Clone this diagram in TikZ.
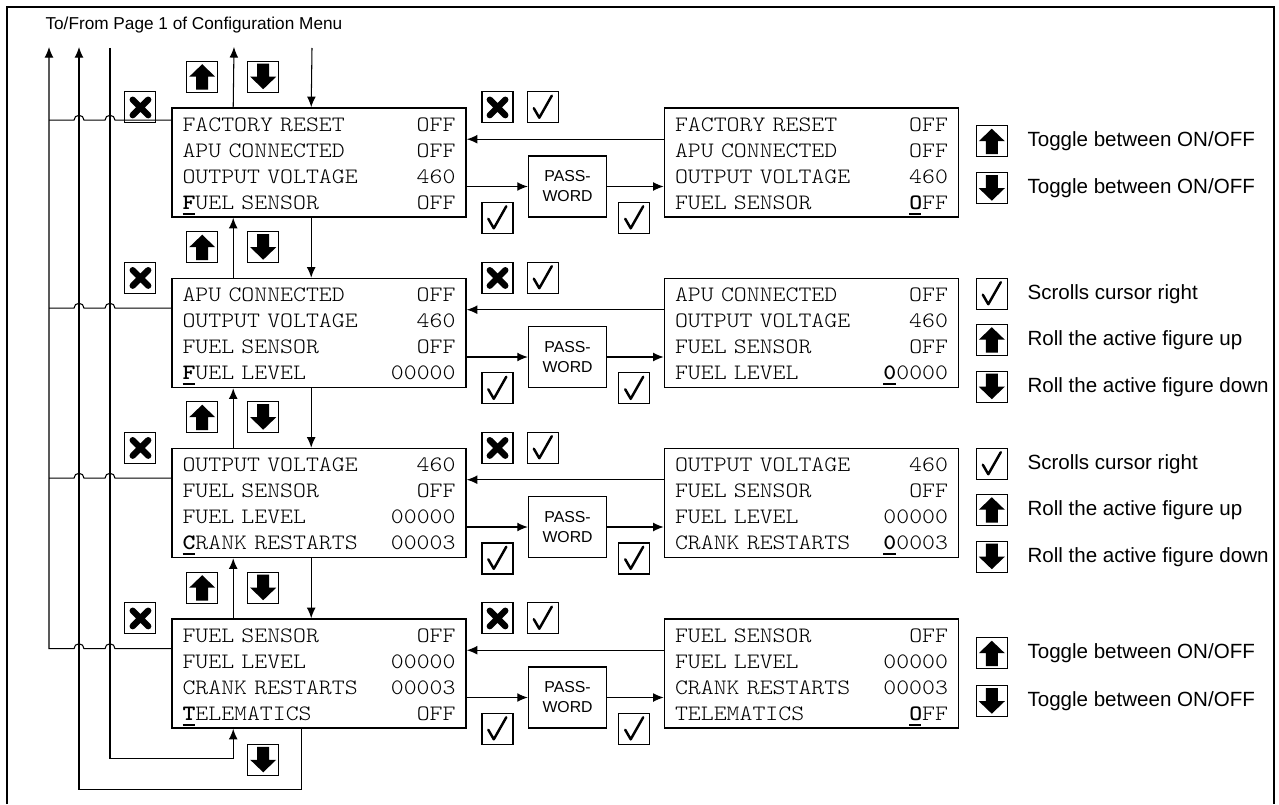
\documentclass[tikz,border=0pt]{standalone}
\usepackage{fontspec}
\setmainfont{Liberation Sans}
\newfontfamily\lcdFont{lmmonolt10-regular.otf}[FakeStretch=1.12, BoldFont=lmmonolt10-bold.otf]
\usepackage{tikz}
\usetikzlibrary{arrows.meta}

\newcommand{\cursorChar}[1]{\makebox[0pt][l]{\rule[-3.2pt]{0.55em}{1.1pt}}\textbf{#1}}

\begin{document}
\begin{tikzpicture}[
    menuBox/.style={draw, line width=0.9pt, text width=5.46cm, inner xsep=0.21cm, inner ysep=0pt,
        minimum height=2.18cm, align=left, font=\lcdFont\fontsize{12.5}{14.8}\selectfont,
        execute at begin node={\rule{0pt}{11.8pt}}},
    passBox/.style={draw, line width=0.9pt, minimum width=1.56cm, minimum height=1.22cm,
        inner sep=0pt, align=center, font=\fontsize{9}{11.4}\selectfont},
    keyBox/.style={draw, line width=0.8pt, minimum size=0.62cm, inner sep=0pt},
    upKey/.style={keyBox, path picture={
        \fill[shift={(path picture bounding box.center)}] (0,0.25) -- (0.26,0) -- (0.12,0) -- (0.12,-0.26) -- (-0.12,-0.26) -- (-0.12,0) -- (-0.26,0) -- cycle;}},
    downKey/.style={keyBox, path picture={
        \fill[shift={(path picture bounding box.center)}] (0,-0.25) -- (0.26,0) -- (0.12,0) -- (0.12,0.26) -- (-0.12,0.26) -- (-0.12,0) -- (-0.26,0) -- cycle;}},
    exitKey/.style={keyBox, path picture={
        \draw[shift={(path picture bounding box.center)}, line width=3.6pt, line cap=round] (-0.15,-0.16) -- (0.16,0.15) (-0.15,0.15) -- (0.16,-0.16);}},
    okKey/.style={keyBox, path picture={
        \draw[shift={(path picture bounding box.center)}, line width=1.4pt, line cap=round, line join=round] (-0.18,-0.02) -- (-0.07,-0.21) -- (0.18,0.23);}},
    legendText/.style={anchor=west, inner sep=0pt, font=\fontsize{11.7}{14}\selectfont},
    >={Latex[length=6pt, width=5pt]},
    every path/.style={line width=0.6pt}
    ]
    \useasboundingbox (0,0) rectangle (25.58,-16.08);
    \draw[line width=1.1pt] (0.14,-16.08) -- (0.14,-0.14) -- (25.48,-0.14) -- (25.48,-16.08);

    \node[anchor=west, inner sep=0pt, font=\fontsize{9.8}{12}\selectfont] (title) at (0.9,-0.5) {To/From Page 1 of Configuration Menu};

    \coordinate (exitTop) at (0.98,-0.94);
    \coordinate (wrapTop) at (1.58,-0.94);
    \coordinate (entryTop) at (2.2,-0.96);
    \coordinate (toPage) at (4.68,-0.94);
    \coordinate (fromPage) at (6.24,-0.96);

    % menu pages
    \node[menuBox] (menuA) at (6.38,-3.25) {FACTORY RESET\hfill OFF\\APU CONNECTED\hfill OFF\\OUTPUT VOLTAGE\hfill 460\\\cursorChar{F}UEL SENSOR\hfill OFF};
    \node[menuBox] (menuB) at (6.38,-6.66) {APU CONNECTED\hfill OFF\\OUTPUT VOLTAGE\hfill 460\\FUEL SENSOR\hfill OFF\\\cursorChar{F}UEL LEVEL\hfill 00000};
    \node[menuBox] (menuC) at (6.38,-10.06) {OUTPUT VOLTAGE\hfill 460\\FUEL SENSOR\hfill OFF\\FUEL LEVEL\hfill 00000\\\cursorChar{C}RANK RESTARTS\hfill 00003};
    \node[menuBox] (menuD) at (6.38,-13.47) {FUEL SENSOR\hfill OFF\\FUEL LEVEL\hfill 00000\\CRANK RESTARTS\hfill 00003\\\cursorChar{T}ELEMATICS\hfill OFF};

    % edit pages
    \node[menuBox] (editA) at (16.23,-3.25) {FACTORY RESET\hfill OFF\\APU CONNECTED\hfill OFF\\OUTPUT VOLTAGE\hfill 460\\FUEL SENSOR\hfill \cursorChar{O}FF};
    \node[menuBox] (editB) at (16.23,-6.66) {APU CONNECTED\hfill OFF\\OUTPUT VOLTAGE\hfill 460\\FUEL SENSOR\hfill OFF\\FUEL LEVEL\hfill \cursorChar{0}0000};
    \node[menuBox] (editC) at (16.23,-10.06) {OUTPUT VOLTAGE\hfill 460\\FUEL SENSOR\hfill OFF\\FUEL LEVEL\hfill 00000\\CRANK RESTARTS\hfill \cursorChar{0}0003};
    \node[menuBox] (editD) at (16.23,-13.47) {FUEL SENSOR\hfill OFF\\FUEL LEVEL\hfill 00000\\CRANK RESTARTS\hfill 00003\\TELEMATICS\hfill \cursorChar{O}FF};

    % password boxes
    \node[passBox, anchor=south west, xshift=1.22cm] (passA) at (menuA.south east) {PASS-\\WORD};
    \node[passBox, anchor=south west, xshift=1.22cm] (passB) at (menuB.south east) {PASS-\\WORD};
    \node[passBox, anchor=south west, xshift=1.22cm] (passC) at (menuC.south east) {PASS-\\WORD};
    \node[passBox, anchor=south west, xshift=1.22cm] (passD) at (menuD.south east) {PASS-\\WORD};

    % keys on the left
    \node[exitKey, xshift=-0.62cm] (quitA) at (menuA.north west) {};
    \node[exitKey, xshift=-0.62cm] (quitB) at (menuB.north west) {};
    \node[exitKey, xshift=-0.62cm] (quitC) at (menuC.north west) {};
    \node[exitKey, xshift=-0.62cm] (quitD) at (menuD.north west) {};

    \node[upKey, xshift=0.62cm, yshift=0.61cm] (upA) at (menuA.north west) {};
    \node[downKey, xshift=1.84cm, yshift=0.61cm] (downA) at (menuA.north west) {};
    \node[upKey, xshift=0.62cm, yshift=0.61cm] (upB) at (menuB.north west) {};
    \node[downKey, xshift=1.84cm, yshift=0.61cm] (downB) at (menuB.north west) {};
    \node[upKey, xshift=0.62cm, yshift=0.61cm] (upC) at (menuC.north west) {};
    \node[downKey, xshift=1.84cm, yshift=0.61cm] (downC) at (menuC.north west) {};
    \node[upKey, xshift=0.62cm, yshift=0.61cm] (upD) at (menuD.north west) {};
    \node[downKey, xshift=1.84cm, yshift=0.61cm] (downD) at (menuD.north west) {};
    \node[downKey, xshift=1.84cm, yshift=-0.62cm] (downE) at (menuD.south west) {};

    % keys in the middle
    \node[exitKey, xshift=0.61cm] (cancelA) at (menuA.north east) {};
    \node[okKey, xshift=1.52cm] (okA) at (menuA.north east) {};
    \node[okKey, xshift=0.61cm] (enterA) at (menuA.south east) {};
    \node[okKey, xshift=-0.59cm] (confirmA) at (editA.south west) {};
    \node[exitKey, xshift=0.61cm] (cancelB) at (menuB.north east) {};
    \node[okKey, xshift=1.52cm] (okB) at (menuB.north east) {};
    \node[okKey, xshift=0.61cm] (enterB) at (menuB.south east) {};
    \node[okKey, xshift=-0.59cm] (confirmB) at (editB.south west) {};
    \node[exitKey, xshift=0.61cm] (cancelC) at (menuC.north east) {};
    \node[okKey, xshift=1.52cm] (okC) at (menuC.north east) {};
    \node[okKey, xshift=0.61cm] (enterC) at (menuC.south east) {};
    \node[okKey, xshift=-0.59cm] (confirmC) at (editC.south west) {};
    \node[exitKey, xshift=0.61cm] (cancelD) at (menuD.north east) {};
    \node[okKey, xshift=1.52cm] (okD) at (menuD.north east) {};
    \node[okKey, xshift=0.61cm] (enterD) at (menuD.south east) {};
    \node[okKey, xshift=-0.59cm] (confirmD) at (editD.south west) {};

    % legend on the right
    \node[upKey, xshift=0.65cm, yshift=-0.68cm] (legUpA) at (editA.north east) {};
    \node[legendText, xshift=0.38cm] (legUpTextA) at (legUpA.east) {Toggle between ON/OFF};
    \node[downKey, xshift=0.65cm, yshift=-1.62cm] (legDownA) at (editA.north east) {};
    \node[legendText, xshift=0.38cm] (legDownTextA) at (legDownA.east) {Toggle between ON/OFF};

    \node[okKey, xshift=0.65cm, yshift=-0.32cm] (legOkB) at (editB.north east) {};
    \node[legendText, xshift=0.38cm] (legOkTextB) at (legOkB.east) {Scrolls cursor right};
    \node[upKey, xshift=0.65cm, yshift=-1.24cm] (legUpB) at (editB.north east) {};
    \node[legendText, xshift=0.38cm] (legUpTextB) at (legUpB.east) {Roll the active figure up};
    \node[downKey, xshift=0.65cm, yshift=-2.18cm] (legDownB) at (editB.north east) {};
    \node[legendText, xshift=0.38cm] (legDownTextB) at (legDownB.east) {Roll the active figure down};

    \node[okKey, xshift=0.65cm, yshift=-0.32cm] (legOkC) at (editC.north east) {};
    \node[legendText, xshift=0.38cm] (legOkTextC) at (legOkC.east) {Scrolls cursor right};
    \node[upKey, xshift=0.65cm, yshift=-1.24cm] (legUpC) at (editC.north east) {};
    \node[legendText, xshift=0.38cm] (legUpTextC) at (legUpC.east) {Roll the active figure up};
    \node[downKey, xshift=0.65cm, yshift=-2.18cm] (legDownC) at (editC.north east) {};
    \node[legendText, xshift=0.38cm] (legDownTextC) at (legDownC.east) {Roll the active figure down};

    \node[upKey, xshift=0.65cm, yshift=-0.7cm] (legUpD) at (editD.north east) {};
    \node[legendText, xshift=0.38cm] (legUpTextD) at (legUpD.east) {Toggle between ON/OFF};
    \node[downKey, xshift=0.65cm, yshift=-1.66cm] (legDownD) at (editD.north east) {};
    \node[legendText, xshift=0.38cm] (legDownTextD) at (legDownD.east) {Toggle between ON/OFF};

    % up and down between pages
    \draw[->] ([xshift=1.24cm]menuA.north west) -- (toPage);
    \draw[->] (fromPage) -- ([xshift=2.8cm]menuA.north west);
    \draw[->] ([xshift=1.24cm]menuB.north west) -- ([xshift=1.24cm]menuA.south west);
    \draw[->] ([xshift=2.8cm]menuA.south west) -- ([xshift=2.8cm]menuB.north west);
    \draw[->] ([xshift=1.24cm]menuC.north west) -- ([xshift=1.24cm]menuB.south west);
    \draw[->] ([xshift=2.8cm]menuB.south west) -- ([xshift=2.8cm]menuC.north west);
    \draw[->] ([xshift=1.24cm]menuD.north west) -- ([xshift=1.24cm]menuC.south west);
    \draw[->] ([xshift=2.8cm]menuC.south west) -- ([xshift=2.8cm]menuD.north west);

    % password and back
    \draw[->] (menuA.east |- passA.west) -- (passA.west);
    \draw[->] (passA.east) -- (editA.west |- passA.east);
    \draw[->] ([yshift=-0.64cm]editA.north west) -- ([yshift=-0.64cm]menuA.north east);
    \draw[->] (menuB.east |- passB.west) -- (passB.west);
    \draw[->] (passB.east) -- (editB.west |- passB.east);
    \draw[->] ([yshift=-0.64cm]editB.north west) -- ([yshift=-0.64cm]menuB.north east);
    \draw[->] (menuC.east |- passC.west) -- (passC.west);
    \draw[->] (passC.east) -- (editC.west |- passC.east);
    \draw[->] ([yshift=-0.64cm]editC.north west) -- ([yshift=-0.64cm]menuC.north east);
    \draw[->] (menuD.east |- passD.west) -- (passD.west);
    \draw[->] (passD.east) -- (editD.west |- passD.east);
    \draw[->] ([yshift=-0.64cm]editD.north west) -- ([yshift=-0.64cm]menuD.north east);

    % back to page 1, with hops
    \coordinate (rowA) at ([yshift=-0.26cm]menuA.north west);
    \coordinate (rowB) at ([yshift=-0.61cm]menuB.north west);
    \coordinate (rowC) at ([yshift=-0.61cm]menuC.north west);
    \coordinate (rowD) at ([yshift=-0.61cm]menuD.north west);
    \draw (rowA) -- ([xshift=0.1cm]entryTop |- rowA) arc[start angle=0, end angle=180, radius=0.1cm] -- ([xshift=0.1cm]wrapTop |- rowA) arc[start angle=0, end angle=180, radius=0.1cm] -- (exitTop |- rowA);
    \draw (rowB) -- ([xshift=0.1cm]entryTop |- rowB) arc[start angle=0, end angle=180, radius=0.1cm] -- ([xshift=0.1cm]wrapTop |- rowB) arc[start angle=0, end angle=180, radius=0.1cm] -- (exitTop |- rowB);
    \draw (rowC) -- ([xshift=0.1cm]entryTop |- rowC) arc[start angle=0, end angle=180, radius=0.1cm] -- ([xshift=0.1cm]wrapTop |- rowC) arc[start angle=0, end angle=180, radius=0.1cm] -- (exitTop |- rowC);
    \draw[->] (rowD) -- ([xshift=0.1cm]entryTop |- rowD) arc[start angle=0, end angle=180, radius=0.1cm] -- ([xshift=0.1cm]wrapTop |- rowD) arc[start angle=0, end angle=180, radius=0.1cm] -- (exitTop |- rowD) -- (exitTop);

    % wrap around below the last page
    \draw[->] ([xshift=2.6cm]menuD.south west) -- ++(0,-1.22) -| (wrapTop);
    \draw[->] (entryTop) |- ([xshift=1.24cm, yshift=-0.6cm]menuD.south west) -- ([xshift=1.24cm]menuD.south west);
\end{tikzpicture}
\end{document}
